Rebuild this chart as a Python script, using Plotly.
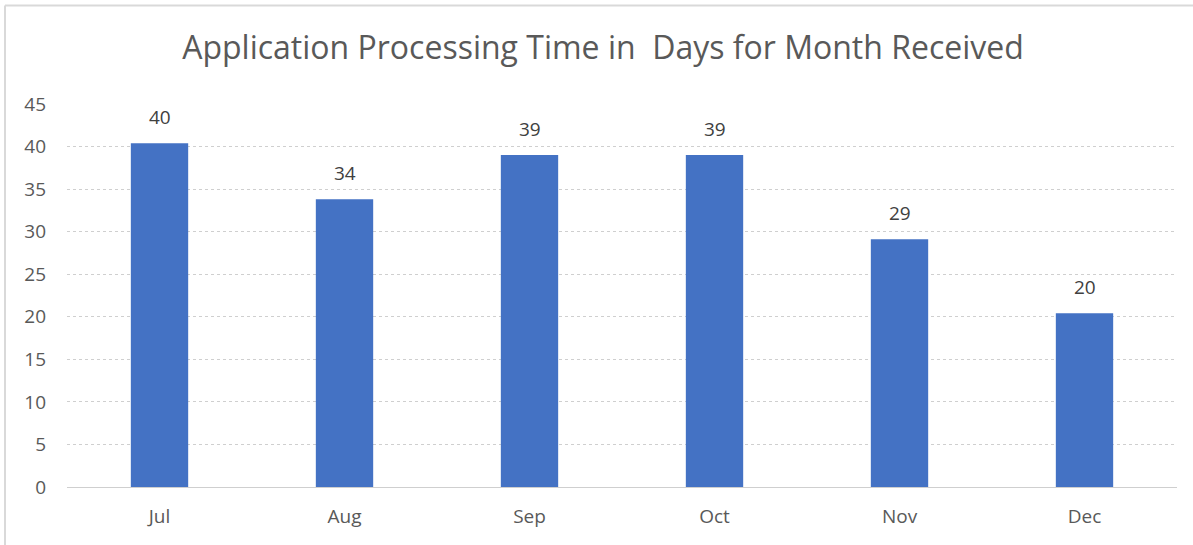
import plotly.graph_objects as go

months = ["Jul", "Aug", "Sep", "Oct", "Nov", "Dec"]
days = [40.4, 33.8, 39.0, 39.0, 29.1, 20.4]
ytick_vals = [0, 5, 10, 15, 20, 25, 30, 35, 40, 45]

W, H = 1193, 545
ML, MR, MT, MB = 67, 16, 104, 58
PW, PH = W - ML - MR, H - MT - MB
FONT = "Open Sans, Liberation Sans, sans-serif"

fig = go.Figure()
fig.add_trace(go.Bar(
    x=months, y=days,
    marker=dict(color="#4472C4", line=dict(width=0)),
    width=0.31,
    hoverinfo="x+y",
))

for m, d in zip(months, days):
    fig.add_annotation(
        x=m, y=d, text=f"{d:.0f}", showarrow=False,
        yanchor="bottom", yshift=11,
        font=dict(family=FONT, size=19, color="#404040"),
    )

def px_x(p):
    return (p - ML) / PW

def px_y(p):
    return (H - MB - p) / PH

line_color = "#d9d9d9"
fig.add_shape(type="line", xref="paper", yref="paper",
              x0=px_x(5), x1=px_x(1193), y0=px_y(5.5), y1=px_y(5.5),
              line=dict(color=line_color, width=2))
fig.add_shape(type="line", xref="paper", yref="paper",
              x0=px_x(5), x1=px_x(5), y0=px_y(5.5), y1=px_y(545),
              line=dict(color=line_color, width=2))

fig.update_layout(
    width=W, height=H,
    margin=dict(l=ML, r=MR, t=MT, b=MB),
    paper_bgcolor="white", plot_bgcolor="white",
    showlegend=False,
    title=dict(
        text="Application Processing Time in  Days for Month Received",
        x=603 / W, xanchor="center", y=1 - 48 / H, yanchor="middle",
        font=dict(family=FONT, size=32, color="#595959"),
    ),
    font=dict(family=FONT, size=19, color="#595959"),
)
fig.update_yaxes(
    range=[0, 45], tickvals=ytick_vals,
    showgrid=True, gridcolor="#cfcfcf", griddash="dot", gridwidth=1,
    zeroline=False, showline=False, ticks="",
    ticklabelstandoff=20,
    tickfont=dict(family=FONT, size=19, color="#595959"),
)
fig.update_xaxes(
    showgrid=False, showline=True, linecolor="#cfcfcf", linewidth=1,
    ticks="", ticklabelstandoff=12,
    tickfont=dict(family=FONT, size=19, color="#595959"),
)

fig.write_html(
    "out.html",
    config={"displayModeBar": False},
    post_script="document.body.style.margin='0';document.body.style.padding='0';",
)
